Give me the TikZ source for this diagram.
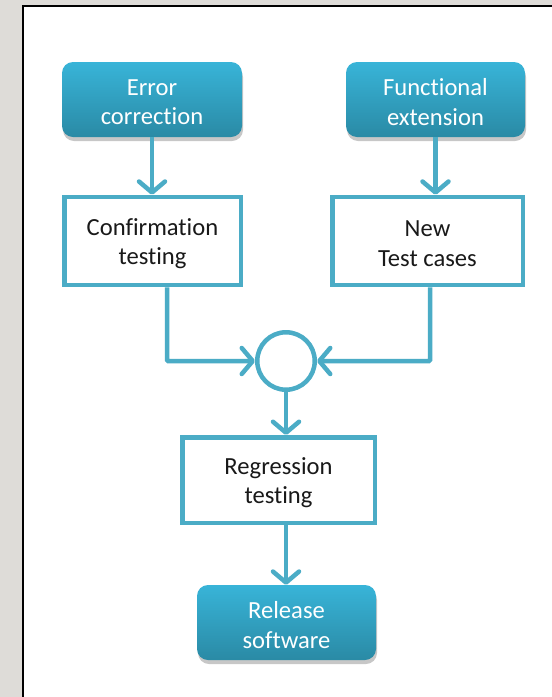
\documentclass[tikz,border=0pt]{standalone}
\usepackage{fontspec}
\setmainfont{Carlito}[Ligatures={NoCommon}]
\usetikzlibrary{arrows.meta,shadows,positioning}
\definecolor{bggray}{HTML}{DEDCD8}
\definecolor{teal}{HTML}{4BACC6}
\definecolor{boxtop}{HTML}{38B4D8}
\definecolor{boxbot}{HTML}{2A8AA5}
\tikzset{
  rbox/.style={rounded corners=11pt, top color=boxtop, bottom color=boxbot,
    draw=none, inner sep=0pt,
    drop shadow={shadow xshift=1pt, shadow yshift=-4pt, opacity=0.22, fill=black}},
  wbox/.style={draw=teal, line width=4.5pt, fill=white, inner sep=0pt},
  lbl/.style={align=center, font=\fontsize{24.6}{29.5}\selectfont, inner sep=0pt},
  wlbl/.style={lbl, text=white},
  blbl/.style={lbl, text=black!90},
  mergecircle/.style={circle, draw=teal, line width=4.5pt, fill=white, minimum size=57.5pt, inner sep=0pt},
  arr/.style={draw=teal, line width=4.5pt,
    -{Straight Barb[length=11pt, width=26pt, line width=4.5pt, round]}},
}
\begin{document}
\begin{tikzpicture}[x=1pt,y=-1pt]
  \useasboundingbox (0,0) rectangle (552,697);
  \fill[bggray] (0,0) rectangle (552,697);
  \draw[fill=white, line width=2pt] (23,5.5) rectangle (560,705);

  \node[rbox, minimum width=180pt, minimum height=75pt] (err) at (152,99.5) {};
  \node[wlbl] (errt) at ([yshift=-2.5pt]err.center) {Error\\correction};
  \node[rbox, minimum width=179pt, minimum height=75pt] (fun) at (435.5,99.5) {};
  \node[wlbl] (funt) at ([yshift=-2.5pt]fun.center) {Functional\\extension};
  \node[wbox, minimum width=176.5pt, minimum height=88pt] (conf) at (152.5,241) {};
  \node[blbl] (conft) at ([yshift=-2.5pt]conf.center) {Confirmation\\testing};
  \node[wbox, minimum width=190.5pt, minimum height=88pt] (newt) at (427.5,241) {};
  \node[blbl] (newtt) at ([yshift=-2.5pt]newt.center) {New\\Test cases};
  \node[mergecircle] (mix) at (286,361) {};
  \node[wbox, minimum width=192.5pt, minimum height=85.5pt] (reg) at (278.5,480) {};
  \node[blbl] (regt) at ([yshift=-2.5pt]reg.center) {Regression\\testing};
  \node[rbox, minimum width=179pt, minimum height=75pt] (rel) at (286.5,622.5) {};
  \node[wlbl] (relt) at ([yshift=-2.5pt]rel.center) {Release\\software};

  \draw[arr] (err.south) -- (err.south |- conf.north);
  \draw[arr] (fun.south) -- (fun.south |- newt.north);
  \draw[arr, rounded corners=1pt] ([xshift=14.5pt]conf.south) |- (mix.west);
  \draw[arr, rounded corners=1pt] ([xshift=2.5pt]newt.south) |- (mix.east);
  \draw[arr] (mix.south) -- (mix.south |- reg.north);
  \draw[arr] (reg.south -| mix.south) -- (mix.south |- rel.north);
\end{tikzpicture}
\end{document}
